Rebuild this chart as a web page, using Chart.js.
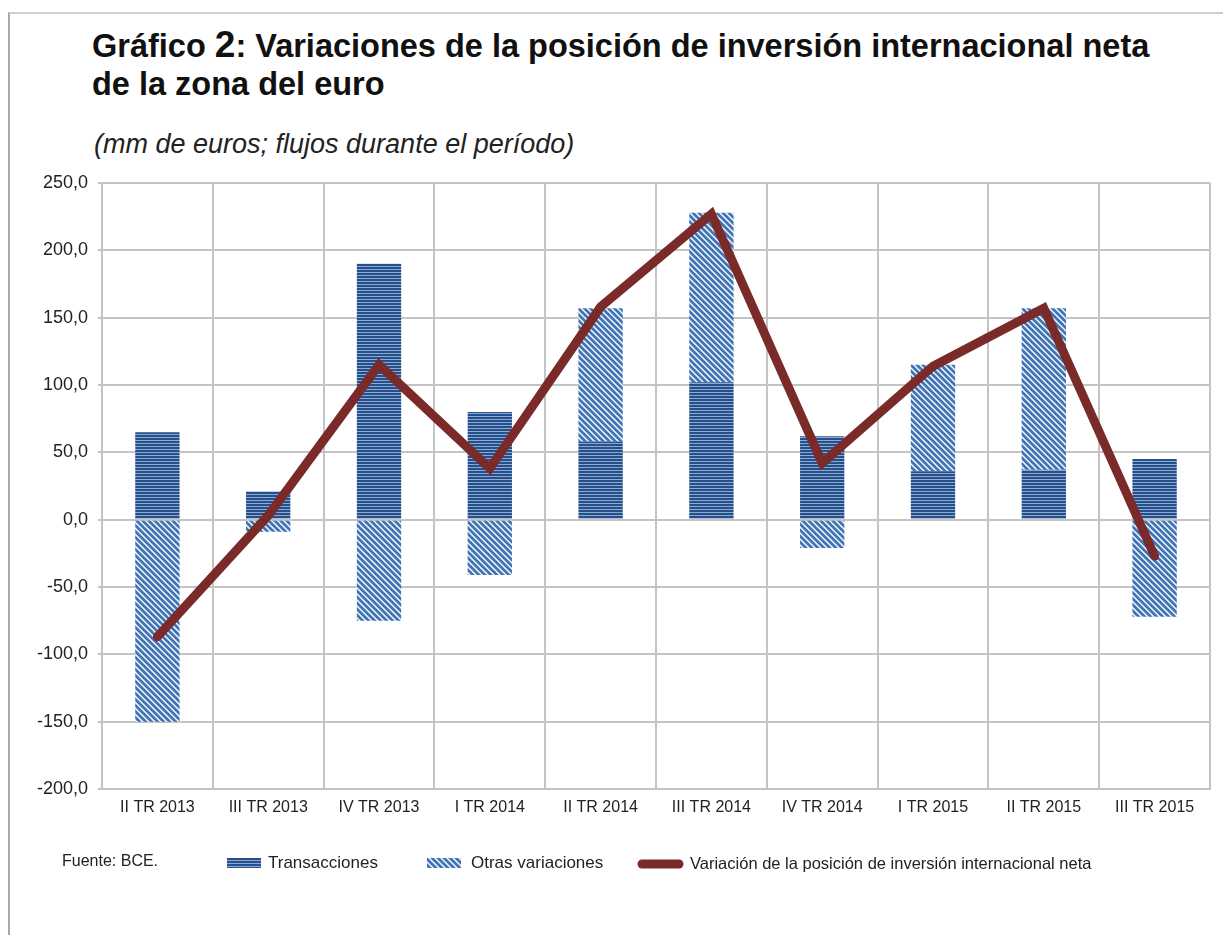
<!DOCTYPE html>
<html>
<head>
<meta charset="utf-8">
<script src="https://cdn.jsdelivr.net/npm/chart.js@4.4.1/dist/chart.umd.min.js"></script>
<style>
body{margin:0;background:#fff;}
#wrap{position:relative;width:1223px;height:935px;overflow:hidden;font-family:"Liberation Sans",Arial,sans-serif;color:#111;}
#frame{position:absolute;left:8px;top:12px;width:1230px;height:940px;border-top:2px solid #cfcfcf;border-left:2px solid #a9a9a9;}
#title{position:absolute;left:92px;top:26px;font-weight:bold;font-size:32.5px;line-height:38px;}
#title .n{font-size:37px;}
#sub{position:absolute;left:94px;top:129px;font-style:italic;font-size:27px;color:#222;}
canvas{position:absolute;left:0;top:0;}
</style>
</head>
<body>
<div id="wrap">
  <div id="frame"></div>
  <div id="title">Gráfico <span class="n">2</span>: Variaciones de la posición de inversión internacional neta<br>de la zona del euro</div>
  <div id="sub">(mm de euros; flujos durante el período)</div>
  <canvas id="chart" width="1223" height="935"></canvas>
</div>
<script>
const labels = ['II TR 2013','III TR 2013','IV TR 2013','I TR 2014','II TR 2014','III TR 2014','IV TR 2014','I TR 2015','II TR 2015','III TR 2015']
const transacciones = [65, 21, 190, 80, 58, 102, 62, 36, 37, 45]
const otrasVariaciones = [-150, -9, -75, -41, 99, 126, -21, 79, 120, -72]
const variacionNeta = [-87, 3, 115, 38, 158, 227, 42, 114, 157, -27]
const yMin = -200, yMax = 250, yStep = 50

const fontFamily = '"Liberation Sans", Arial, sans-serif'
const gridColor = '#c4c4c4'
const lineColor = '#7b2a2a'

// horizontal stripes for Transacciones
function hStripes(){
  const c = document.createElement('canvas')
  c.width = 4; c.height = 3
  const x = c.getContext('2d')
  x.fillStyle = '#24508c'
  x.fillRect(0,0,4,3)
  x.fillStyle = '#8ea8cf'
  x.fillRect(0,2,4,1)
  return x.createPattern(c,'repeat')
}
// diagonal stripes for Otras variaciones
function dStripes(){
  const s = 6
  const c = document.createElement('canvas')
  c.width = s; c.height = s
  const x = c.getContext('2d')
  x.fillStyle = '#ffffff'
  x.fillRect(0,0,s,s)
  x.strokeStyle = '#3f74b5'
  x.lineWidth = 2.8
  for(let k=-1;k<=1;k++){
    x.beginPath()
    x.moveTo(k*s-1,-1)
    x.lineTo(k*s+s+1,s+1)
    x.stroke()
  }
  return x.createPattern(c,'repeat')
}
const patTrans = hStripes()
const patOtras = dStripes()

const legendPlugin = {
  id:'customLegend',
  afterDraw(chart){
    const ctx = chart.ctx
    ctx.save()
    ctx.textBaseline = 'middle'
    ctx.fillStyle = '#222'
    ctx.font = '16px ' + fontFamily
    ctx.fillText('Fuente: BCE.', 62, 862)
    // Transacciones
    ctx.fillStyle = patTrans
    ctx.fillRect(227, 858, 34, 10)
    ctx.fillStyle = '#222'
    ctx.font = '17px ' + fontFamily
    ctx.fillText('Transacciones', 268, 863)
    // Otras variaciones
    ctx.fillStyle = patOtras
    ctx.fillRect(427, 858, 34, 10)
    ctx.fillStyle = '#222'
    ctx.fillText('Otras variaciones', 471, 863)
    // line
    ctx.strokeStyle = lineColor
    ctx.lineWidth = 9
    ctx.lineCap = 'round'
    ctx.beginPath()
    ctx.moveTo(642, 864)
    ctx.lineTo(679, 864)
    ctx.stroke()
    ctx.font = '16.5px ' + fontFamily
    ctx.fillStyle = '#222'
    ctx.fillText('Variación de la posición de inversión internacional neta', 690, 864)
    ctx.restore()
  }
}

window.onload = ()=>{
  const ctx = document.getElementById('chart').getContext('2d')
  new Chart(ctx, {
    type:'bar',
    data:{
      labels: labels,
      datasets:[
        {label:'Transacciones', data:transacciones, backgroundColor:patTrans, stack:'a', order:1,
         categoryPercentage:0.8, barPercentage:0.5},
        {label:'Otras variaciones', data:otrasVariaciones, backgroundColor:patOtras, stack:'a', order:1,
         categoryPercentage:0.8, barPercentage:0.5},
        {type:'line', label:'Variación de la posición de inversión internacional neta', data:variacionNeta,
         borderColor:lineColor, backgroundColor:lineColor, borderWidth:9, pointRadius:0, tension:0,
         borderCapStyle:'round', borderJoinStyle:'miter', stack:'net', order:0}
      ]
    },
    options:{
      responsive:false,
      animation:false,
      layout:{padding:{left:0, right:13, top:183, bottom:106}},
      plugins:{legend:{display:false}, tooltip:{enabled:false}},
      scales:{
        x:{
          stacked:true,
          grid:{color:gridColor, lineWidth:2, drawTicks:false, offset:true},
          border:{color:gridColor, width:2},
          ticks:{color:'#222', font:{family:fontFamily, size:16}, padding:9, maxRotation:0, autoSkip:false},
          afterFit(s){ s.height = 40 }
        },
        y:{
          stacked:true,
          min:yMin, max:yMax,
          grid:{color:gridColor, lineWidth:2, tickLength:4},
          border:{color:gridColor, width:2},
          ticks:{stepSize:yStep, color:'#222', font:{family:fontFamily, size:18}, padding:10,
            callback:(v)=>v.toFixed(1).replace('.',',')},
          afterFit(s){ s.width = 102 }
        }
      }
    },
    plugins:[legendPlugin]
  })
}
</script>
</body>
</html>
